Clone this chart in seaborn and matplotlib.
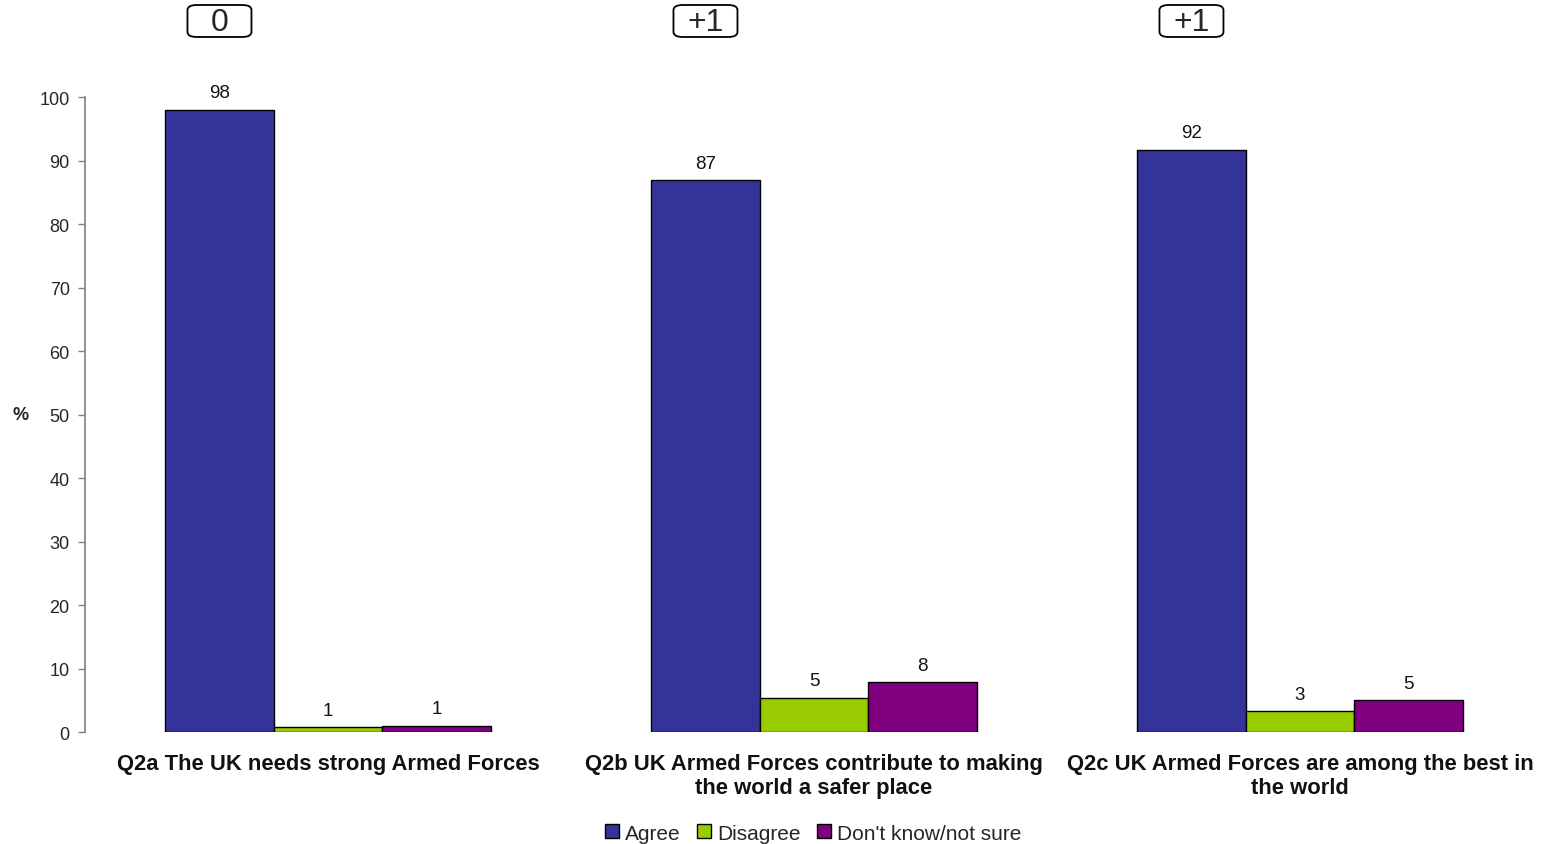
import pandas as pd
import numpy as np
import matplotlib
matplotlib.use('Agg')
import matplotlib.pyplot as plt
import seaborn as sns
from matplotlib.patches import Patch, FancyBboxPatch

# data
questions = ['Q2a The UK needs strong Armed Forces',
             'Q2b UK Armed Forces contribute to making\nthe world a safer place',
             'Q2c UK Armed Forces are among the best in\nthe world']
responses = ['Agree', 'Disagree', "Don't know/not sure"]
agree = [98, 86.9, 91.7]
disagree = [0.8, 5.4, 3.3]
dont_know = [1.0, 7.9, 5.0]
changes = ['0', '+1', '+1']
colours = ['#333399', '#99CC00', '#800080']

df = pd.DataFrame({
    'question': questions * 3,
    'response': [r for r in responses for _ in questions],
    'value': agree + disagree + dont_know,
})

sns.set_style('white')
plt.rcParams['font.family'] = ['Liberation Sans', 'DejaVu Sans']

fig = plt.figure(figsize=(15.43, 8.45), dpi=100)
ax = fig.add_axes([0.0551, 0.1325, 0.9449, 0.7515])

sns.barplot(data=df, x='question', y='value', hue='response', order=questions,
            hue_order=responses, palette=colours, width=0.67, edgecolor='black',
            linewidth=1.0, saturation=1, ax=ax, legend=False)

for c in ax.containers:
    ax.bar_label(c, fmt='%.0f', padding=6, fontsize=13.5, color='#111111')

ax.set_ylim(0, 100)
ax.set_xlim(-0.5, 2.5)
ax.set_yticks(range(0, 101, 10))
ax.set_xlabel('')
ax.set_ylabel('%', rotation=0, fontsize=13, fontweight='bold', va='center')
ax.yaxis.set_label_coords(-0.044, 0.5)
for s in ['top', 'right', 'bottom']:
    ax.spines[s].set_visible(False)
ax.spines['left'].set_color('#808080')
ax.spines['left'].set_linewidth(1.2)
ax.tick_params(axis='y', left=True, length=5, width=1, color='#808080', labelsize=13, pad=6)
ax.tick_params(axis='x', length=0, pad=15)
for lbl in ax.get_xticklabels():
    lbl.set_fontweight('bold')
    lbl.set_fontsize(15.8)
    lbl.set_color('#111111')
    lbl.set_linespacing(1.22)
    lbl.set_va('top')

# change boxes above the Agree bars (fixed size, like the original)
bw, bh = 64 / 1543, 32 / 845
for bar, ch in zip(ax.containers[0], changes):
    xc = bar.get_x() + bar.get_width() / 2
    fx = fig.transFigure.inverted().transform(ax.transData.transform((xc, 0)))[0]
    box = FancyBboxPatch((fx - bw / 2, 1 - 38 / 845), bw, bh, transform=fig.transFigure,
                         boxstyle='round,pad=0,rounding_size=0.006', fc='white', ec='black', lw=1.3)
    fig.patches.append(box)
    fig.text(fx, 1 - 23 / 845, ch, ha='center', va='center', fontsize=23)

handles = [Patch(facecolor=c, edgecolor='black', label=r) for c, r in zip(colours, responses)]
fig.legend(handles=handles, loc='center', bbox_to_anchor=(0.527, 0.013), ncol=3,
           frameon=False, fontsize=15, handlelength=0.65, handleheight=0.65,
           handletextpad=0.3, columnspacing=0.8)

fig.savefig('out.png', dpi=100)
